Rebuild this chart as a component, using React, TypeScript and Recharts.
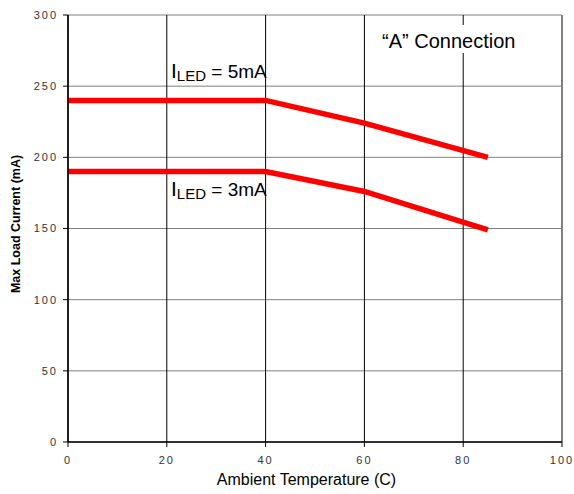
import { CartesianGrid, Line, LineChart, ReferenceLine, XAxis, YAxis } from "recharts";

const temperatures = [0, 40, 60, 85];
const led5mA = [240, 240, 224, 200];
const led3mA = [190, 190, 176, 149];
const xTicks = [0, 20, 40, 60, 80, 100];
const yTicks = [0, 50, 100, 150, 200, 250, 300];

const data = temperatures.map((t, i) => ({ t, a: led5mA[i], b: led3mA[i] }));

const font = "'Liberation Sans', Arial, sans-serif";
const tickStyle = { fontSize: 11, fill: "#333", fontFamily: font, letterSpacing: 2 };

export default function App() {
  return (
    <div style={{ position: "absolute", left: 0, top: 0, width: 574, height: 494, background: "#fff" }}>
      <LineChart width={574} height={494} data={data} margin={{ top: 15, right: 12, bottom: 0, left: 0 }}>
        <CartesianGrid vertical={false} stroke="#808080" />
        <CartesianGrid horizontal={false} stroke="#000" />
        <XAxis
          dataKey="t"
          type="number"
          domain={[0, 100]}
          ticks={xTicks}
          height={52}
          tick={tickStyle}
          tickSize={5}
          tickMargin={9}
          tickLine={{ stroke: "#000" }}
          axisLine={{ stroke: "#000", strokeWidth: 1.5 }}
        />
        <YAxis
          type="number"
          domain={[0, 300]}
          ticks={yTicks}
          width={68}
          tick={tickStyle}
          tickSize={5}
          tickMargin={5}
          tickLine={{ stroke: "#000" }}
          axisLine={{ stroke: "#000", strokeWidth: 1.5 }}
        />
        <ReferenceLine x={100} stroke="#808080" strokeWidth={2} />
        <Line type="linear" dataKey="a" stroke="#ff0000" strokeWidth={5.5} dot={false} isAnimationActive={false} />
        <Line type="linear" dataKey="b" stroke="#ff0000" strokeWidth={5.5} dot={false} isAnimationActive={false} />
      </LineChart>
      <svg
        width={574}
        height={494}
        style={{ position: "absolute", left: 0, top: 0, pointerEvents: "none" }}
        fontFamily={font}
      >
        <rect x={378} y={25} width={142} height={28} fill="#fff" />
        <text x={382} y={48} fontSize={20} fill="#000">
          “A” Connection
        </text>
        <text x={171} y={78} fontSize={19} fill="#000">
          <tspan fontSize={21}>I</tspan>
          <tspan fontSize={15} dy={2.5}>LED</tspan>
          <tspan dy={-2.5}> = 5mA</tspan>
        </text>
        <text x={171} y={196} fontSize={19} fill="#000">
          <tspan fontSize={21}>I</tspan>
          <tspan fontSize={15} dy={2.5}>LED</tspan>
          <tspan dy={-2.5}> = 3mA</tspan>
        </text>
        <text x={306.5} y={485} fontSize={16} textAnchor="middle" fill="#000">
          Ambient Temperature (C)
        </text>
        <text
          x={0}
          y={0}
          fontSize={12.5}
          fontWeight="bold"
          textAnchor="middle"
          fill="#000"
          transform="translate(20 224) rotate(-90)"
        >
          Max Load Current (mA)
        </text>
      </svg>
    </div>
  );
}
